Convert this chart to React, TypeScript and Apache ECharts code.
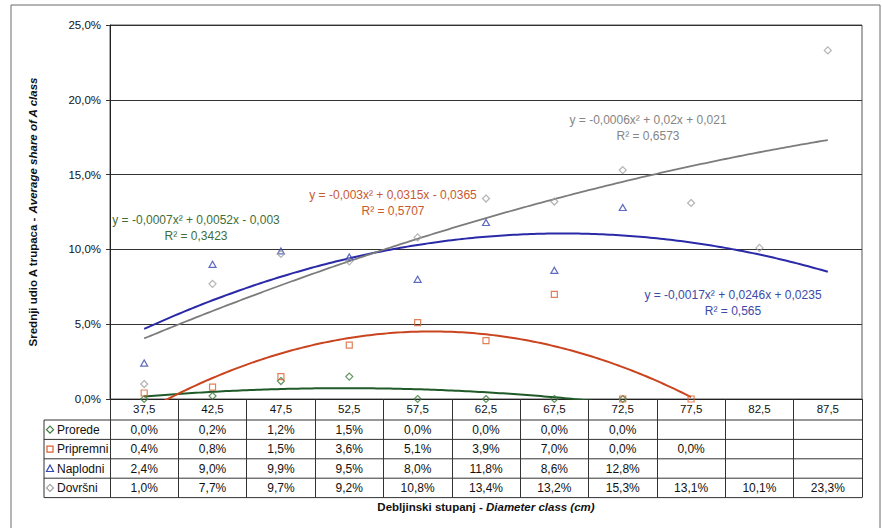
import React, { useEffect, useRef } from "react";
import * as echarts from "echarts";

// Diameter classes (cm) shown along the category axis
const CATEGORIES = ["37,5", "42,5", "47,5", "52,5", "57,5", "62,5", "67,5", "72,5", "77,5", "82,5", "87,5"];

// Average share of A-class logs per felling type, in percent
const SERIES_NAMES = ["Prorede", "Pripremni", "Naplodni", "Dovršni"];
const PROREDE = [0.0, 0.2, 1.2, 1.5, 0.0, 0.0, 0.0, 0.0, null, null, null];
const PRIPREMNI = [0.4, 0.8, 1.5, 3.6, 5.1, 3.9, 7.0, 0.0, 0.0, null, null];
const NAPLODNI = [2.4, 9.0, 9.9, 9.5, 8.0, 11.8, 8.6, 12.8, null, null, null];
const DOVRSNI = [1.0, 7.7, 9.7, 9.2, 10.8, 13.4, 13.2, 15.3, 13.1, 10.1, 23.3];
const SERIES_VALUES: (number | null)[][] = [PROREDE, PRIPREMNI, NAPLODNI, DOVRSNI];

// Polynomial (order 2) trend lines; forecast = extra classes the curve is extended forward
const TREND_FORECAST = [0, 0, 3, 0];
const EQUATIONS = [
  "y = -0,0007x² + 0,0052x - 0,003",
  "y = -0,003x² + 0,0315x - 0,0365",
  "y = -0,0017x² + 0,0246x + 0,0235",
  "y = -0,0006x² + 0,02x + 0,021",
];
const R_SQUARED = ["R² = 0,3423", "R² = 0,5707", "R² = 0,565", "R² = 0,6573"];

// Value axis ticks (percent)
const Y_MIN = 0;
const Y_MAX = 25;
const Y_STEP = 5;

// Styling
const FONT = '"Liberation Sans", Arial, sans-serif';
const MARKER_COLORS = ["#3b7a3b", "#d9602e", "#3646b0", "#a0a0a0"];
const LINE_COLORS = ["#1f5a28", "#c9441f", "#2a2aa8", "#7c7c7c"];
const TEXT_COLORS = ["#3f6e37", "#c85a30", "#3c4aa8", "#858585"];
const SYMBOLS = ["diamond", "rect", "triangle", "diamond"];
const SYMBOL_SIZES: any[] = [[7, 7], [6, 6], [7, 6], [7, 7]];

// Layout
const W = 882;
const H = 528;
const PLOT_LEFT = 110;
const PLOT_RIGHT = 862;
const PLOT_TOP = 25;
const PLOT_BOTTOM = 399;
const TABLE_LEFT = 44;
const TABLE_TOP = 420;
const ROW_H = 19.4;
const EQ_POS = [
  [196, 220],
  [393, 195],
  [733, 295],
  [648, 120],
];

const pct = (v: number) => v.toFixed(1).replace(".", ",") + "%";

// Least-squares fit y = a x^2 + b x + c
function fitQuadratic(xs: number[], ys: number[]): [number, number, number] {
  const s = [0, 0, 0, 0, 0];
  const t = [0, 0, 0];
  xs.forEach((x, i) => {
    for (let k = 0; k < 5; k++) s[k] += Math.pow(x, k);
    for (let k = 0; k < 3; k++) t[k] += Math.pow(x, k) * ys[i];
  });
  const m = [
    [s[0], s[1], s[2], t[0]],
    [s[1], s[2], s[3], t[1]],
    [s[2], s[3], s[4], t[2]],
  ];
  for (let col = 0; col < 3; col++) {
    let piv = col;
    for (let r = col + 1; r < 3; r++) if (Math.abs(m[r][col]) > Math.abs(m[piv][col])) piv = r;
    [m[col], m[piv]] = [m[piv], m[col]];
    for (let r = 0; r < 3; r++) {
      if (r === col) continue;
      const f = m[r][col] / m[col][col];
      for (let c = col; c < 4; c++) m[r][c] -= f * m[col][c];
    }
  }
  const c0 = m[0][3] / m[0][0];
  const c1 = m[1][3] / m[1][1];
  const c2 = m[2][3] / m[2][2];
  return [c2, c1, c0];
}

function trendPoints(values: (number | null)[], forecast: number): number[][] {
  const xs: number[] = [];
  const ys: number[] = [];
  values.forEach((v, i) => {
    if (v !== null) {
      xs.push(i + 1);
      ys.push(v);
    }
  });
  const [a, b, c] = fitQuadratic(xs, ys);
  const x0 = xs[0];
  const x1 = xs[xs.length - 1] + forecast;
  const pts: number[][] = [];
  for (let x = x0; x <= x1 + 1e-9; x += 0.05) pts.push([x, a * x * x + b * x + c]);
  return pts;
}

function legendMarker(i: number, cx: number, cy: number): any {
  const style = { fill: "none", stroke: MARKER_COLORS[i], lineWidth: 1.2 };
  if (SYMBOLS[i] === "rect") {
    return { type: "rect", shape: { x: cx - 3, y: cy - 3, width: 6, height: 6 }, style };
  }
  if (SYMBOLS[i] === "triangle") {
    return { type: "polygon", shape: { points: [[cx, cy - 3.5], [cx + 3.5, cy + 3], [cx - 3.5, cy + 3]] }, style };
  }
  return { type: "polygon", shape: { points: [[cx, cy - 3.5], [cx + 3.5, cy], [cx, cy + 3.5], [cx - 3.5, cy]] }, style };
}

export default function App() {
  const ref = useRef<HTMLDivElement>(null);

  useEffect(() => {
    if (!ref.current) return;
    const chart = echarts.init(ref.current, undefined, { renderer: "svg", width: W, height: H });

    const trendSeries = SERIES_VALUES.map((vals, i) => ({
      name: SERIES_NAMES[i] + " trend",
      type: "line",
      xAxisIndex: 1,
      yAxisIndex: 0,
      data: trendPoints(vals, TREND_FORECAST[i]),
      showSymbol: false,
      symbol: "none",
      smooth: false,
      clip: true,
      silent: true,
      z: 2,
      lineStyle: { color: LINE_COLORS[i], width: i === 3 ? 1.8 : 2 },
    }));

    const markerSeries = SERIES_VALUES.map((vals, i) => ({
      name: SERIES_NAMES[i],
      type: "scatter",
      xAxisIndex: 0,
      yAxisIndex: 0,
      data: vals.map((v, k) => (v === null ? null : [k, v])).filter((d) => d !== null),
      symbol: SYMBOLS[i],
      symbolSize: SYMBOL_SIZES[i],
      clip: false,
      z: 3,
      itemStyle: { color: "rgba(255,255,255,0)", borderColor: MARKER_COLORS[i], borderWidth: 1.2 },
    }));

    // Data-table rows drawn as extra category axes under the plot
    const rowCenters = SERIES_NAMES.map((_, k) => TABLE_TOP + (k + 0.5) * ROW_H);
    const tableAxes = SERIES_VALUES.map((vals, k) => ({
      type: "category",
      gridIndex: 0,
      position: "bottom",
      offset: rowCenters[k] - PLOT_BOTTOM,
      data: vals.map((v) => (v === null ? "" : pct(v))),
      axisLine: { show: false },
      axisTick: { show: false },
      splitLine: { show: false },
      axisLabel: {
        interval: 0,
        margin: 0,
        verticalAlign: "middle",
        fontFamily: FONT,
        fontSize: 12,
        color: "#111",
      },
    }));

    const graphics: any[] = [];
    // outer frame
    graphics.push({
      type: "rect",
      shape: { x: 11, y: 5, width: 869, height: 600 },
      style: { fill: "none", stroke: "#6a6a6a", lineWidth: 1 },
      z: 0,
    });
    // table rules
    for (let k = 0; k <= 4; k++) {
      const y = TABLE_TOP + k * ROW_H;
      graphics.push({
        type: "line",
        shape: { x1: TABLE_LEFT, y1: y, x2: PLOT_RIGHT, y2: y },
        style: { stroke: "#333", lineWidth: 1 },
      });
    }
    graphics.push({
      type: "line",
      shape: { x1: TABLE_LEFT, y1: TABLE_TOP, x2: TABLE_LEFT, y2: TABLE_TOP + 4 * ROW_H },
      style: { stroke: "#333", lineWidth: 1 },
    });
    // legend column
    SERIES_NAMES.forEach((name, k) => {
      const cy = rowCenters[k];
      graphics.push(legendMarker(k, 50, cy));
      graphics.push({
        type: "text",
        x: 57,
        y: cy,
        style: { text: name, fill: "#111", font: `12px ${FONT}`, align: "left", verticalAlign: "middle" },
      });
    });
    // trend equations
    EQUATIONS.forEach((eq, i) => {
      const [cx, cy] = EQ_POS[i];
      graphics.push({
        type: "text",
        x: cx,
        y: cy,
        style: { text: eq, fill: TEXT_COLORS[i], font: `12px ${FONT}`, align: "center", verticalAlign: "middle" },
        z: 10,
      });
      graphics.push({
        type: "text",
        x: cx,
        y: cy + 16,
        style: { text: R_SQUARED[i], fill: TEXT_COLORS[i], font: `12px ${FONT}`, align: "center", verticalAlign: "middle" },
        z: 10,
      });
    });
    // axis titles
    graphics.push({
      type: "text",
      x: (PLOT_LEFT + PLOT_RIGHT) / 2,
      y: 507,
      style: {
        text: "{b|Debljinski stupanj - }{i|Diameter class (cm)}",
        align: "center",
        verticalAlign: "middle",
        rich: {
          b: { fontFamily: FONT, fontSize: 11.5, fontWeight: "bold", fill: "#111" },
          i: { fontFamily: FONT, fontSize: 11.5, fontWeight: "bold", fontStyle: "italic", fill: "#111" },
        },
      },
    });
    graphics.push({
      type: "text",
      x: 33,
      y: (PLOT_TOP + PLOT_BOTTOM) / 2,
      rotation: Math.PI / 2,
      style: {
        text: "{b|Srednji udio A trupaca - }{i|Average share of A class}",
        align: "center",
        verticalAlign: "middle",
        rich: {
          b: { fontFamily: FONT, fontSize: 11.5, fontWeight: "bold", fill: "#111" },
          i: { fontFamily: FONT, fontSize: 11.5, fontWeight: "bold", fontStyle: "italic", fill: "#111" },
        },
      },
    });

    chart.setOption({
      animation: false,
      backgroundColor: "#ffffff",
      grid: {
        left: PLOT_LEFT,
        right: W - PLOT_RIGHT,
        top: PLOT_TOP,
        bottom: H - PLOT_BOTTOM,
        show: true,
        borderColor: "#555",
        borderWidth: 1,
        containLabel: false,
      },
      xAxis: [
        {
          type: "category",
          data: CATEGORIES,
          boundaryGap: true,
          position: "bottom",
          axisLine: { show: true, lineStyle: { color: "#222", width: 1 } },
          axisTick: { show: true, interval: 0, length: TABLE_TOP + 4 * ROW_H - PLOT_BOTTOM, lineStyle: { color: "#333" } },
          axisLabel: { interval: 0, margin: 4, fontFamily: FONT, fontSize: 11.5, color: "#111" },
          splitLine: { show: false },
        },
        {
          type: "value",
          min: 0.5,
          max: CATEGORIES.length + 0.5,
          show: false,
          position: "bottom",
        },
        ...tableAxes,
      ],
      yAxis: {
        type: "value",
        min: Y_MIN,
        max: Y_MAX,
        interval: Y_STEP,
        axisLine: { show: true, lineStyle: { color: "#222" } },
        axisTick: { show: true, length: 4, lineStyle: { color: "#333" } },
        axisLabel: { formatter: (v: number) => pct(v), margin: 9, fontFamily: FONT, fontSize: 11.5, color: "#111" },
        splitLine: { show: true, lineStyle: { color: "#333", width: 1 } },
      },
      series: [...trendSeries, ...markerSeries],
      graphic: graphics,
    });

    return () => chart.dispose();
  }, []);

  return (
    <div
      ref={ref}
      style={{ position: "absolute", left: 0, top: 0, width: W, height: H, background: "#fff" }}
    />
  );
}
